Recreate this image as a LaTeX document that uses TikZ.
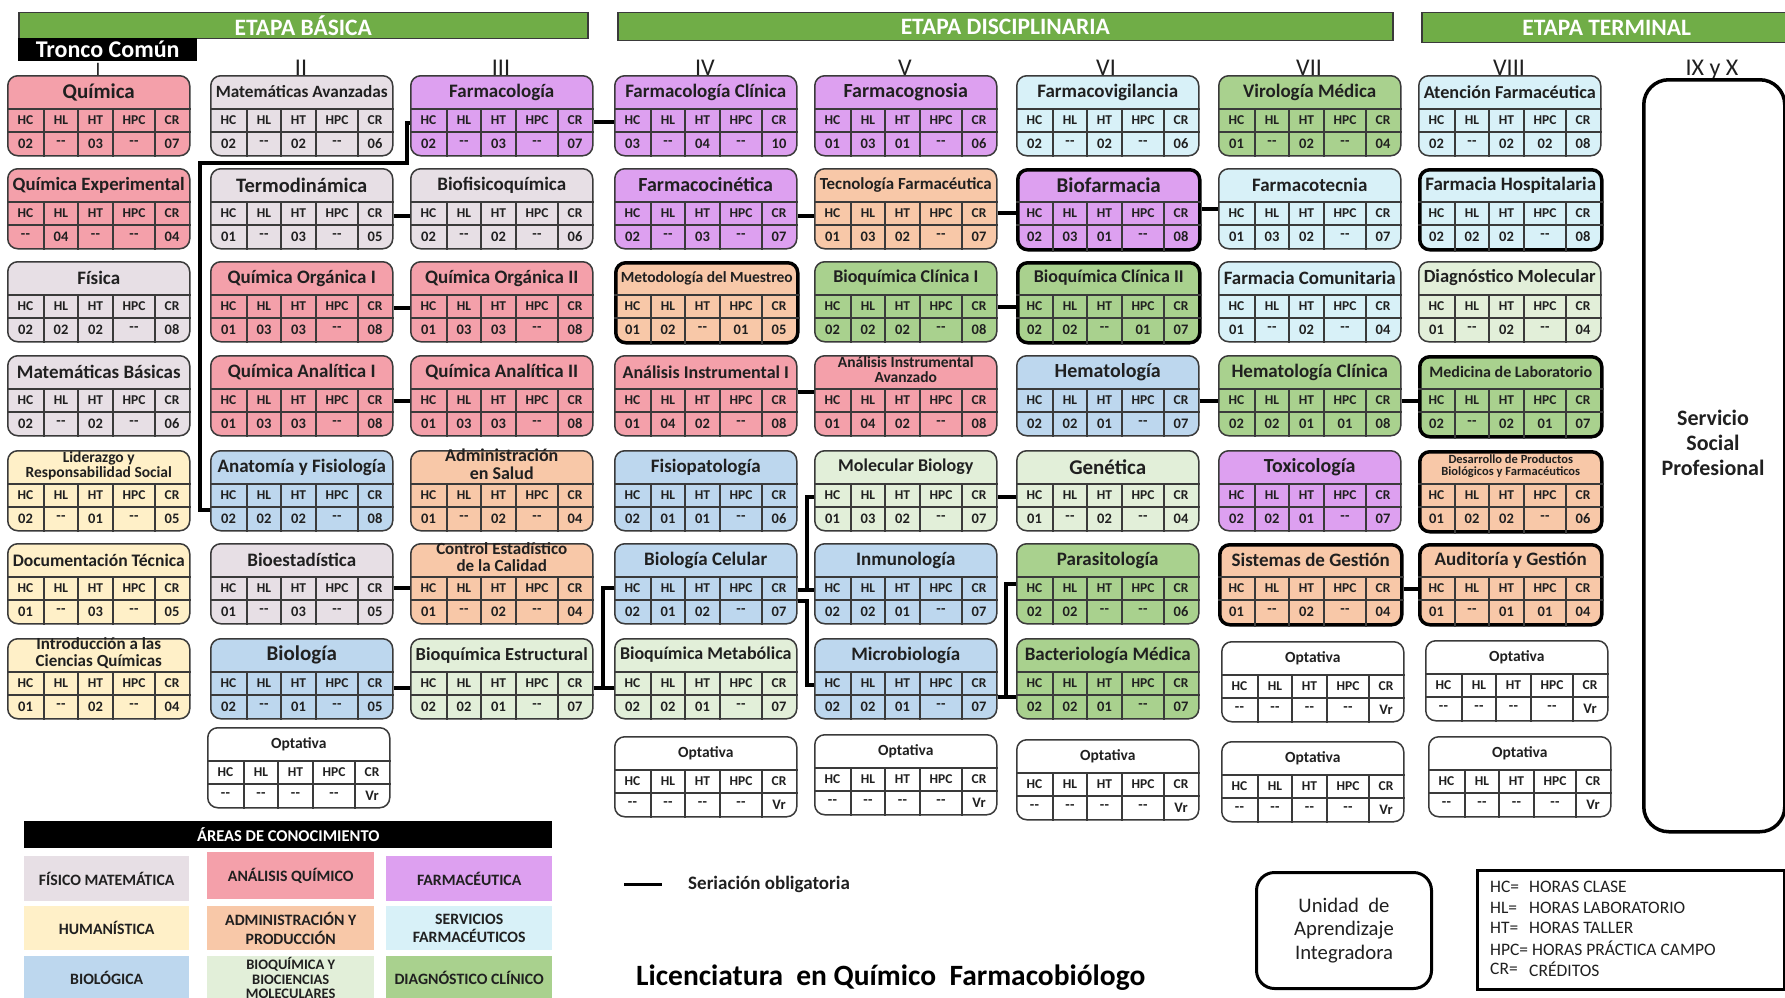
\documentclass[tikz,border=0pt]{standalone}
\usepackage{fontspec}
\setmainfont{Carlito}
\usepackage{graphicx}
\usetikzlibrary{calc}
\definecolor{cFM}{HTML}{E7DFE5}
\definecolor{cAQ}{HTML}{F4A0AA}
\definecolor{cFA}{HTML}{DDA0F0}
\definecolor{cHU}{HTML}{FFF0C8}
\definecolor{cAD}{HTML}{F8C8A8}
\definecolor{cSF}{HTML}{D8F1F8}
\definecolor{cBI}{HTML}{BDD7EE}
\definecolor{cBQ}{HTML}{E2EFD9}
\definecolor{cDC}{HTML}{A9D18E}
\definecolor{cBar}{HTML}{70AD47}
\definecolor{cB}{HTML}{3A3A3A}
\definecolor{cT}{HTML}{202020}
\newcommand\fsz[1]{\fontsize{#1}{#1}\selectfont}
\newsavebox\fitbx
\newcommand\fitw[2]{\sbox\fitbx{#2}\ifdim\wd\fitbx>#1\resizebox{#1}{!}{\usebox\fitbx}\else\usebox\fitbx\fi}
\newcommand\twoln[2]{\begin{tabular}{@{}c@{}}#1\\#2\end{tabular}}
\newcommand\dsh{-\kern0.4pt-}
\tikzset{
  cbox/.style={rectangle, rounded corners=10pt, minimum width=182pt, minimum height=80pt, inner sep=0pt, anchor=north west, draw=cB, line width=1.5pt},
  thk/.style={draw=black, line width=3.5pt},
  grd/.style={draw=cB, line width=1.2pt},
  ttl/.style={font=\bfseries\fsz{19}, inner sep=0pt, text=cT},
  hdr/.style={font=\bfseries\fsz{13.5}, inner sep=0pt, text=cT},
  val/.style={font=\bfseries\fsz{14.5}, inner sep=0pt, text=cT},
  ser/.style={line width=4pt, black},
  stage/.style={anchor=north west, fill=cBar, draw=cB, line width=1.5pt, inner sep=0pt, text=white, font=\bfseries\fsz{23.5}},
  lcell/.style={anchor=north west, inner sep=0pt, align=center, font=\bfseries\fsz{15.8}, text=cT},
  roman/.style={anchor=base, inner sep=0pt, font=\fsz{24}, text=cT},
}
\newcommand\crsvals[6]{%
  \node[val] at ([xshift=18.5pt,yshift=-68.5pt]#1.north west) {#2};
  \node[val] at ([xshift=54pt,yshift=-68.5pt]#1.north west) {#3};
  \node[val] at ([xshift=88.5pt,yshift=-68.5pt]#1.north west) {#4};
  \node[val] at ([xshift=127pt,yshift=-68.5pt]#1.north west) {#5};
  \node[val] at ([xshift=165pt,yshift=-68.5pt]#1.north west) {#6};
}
\newcommand\crs[5][]{%
  \node[cbox,#1] (#2) at (#3) {};
  \foreach \yy in {34,57}{\draw[grd] ([yshift=-\yy pt]#2.north west) -- ([yshift=-\yy pt]#2.north east);}
  \foreach \xx in {37,71,106,148}{\draw[grd] ([xshift=\xx pt,yshift=-34pt]#2.north west) -- ([xshift=\xx pt]#2.south west);}
  \node[ttl] at ([yshift=-17pt]#2.north) {\fitw{172pt}{#4}};
  \foreach \hh/\xx in {HC/18.5,HL/54,HT/88.5,HPC/127,CR/165}{\node[hdr] at ([xshift=\xx pt,yshift=-45.5pt]#2.north west) {\hh};}
  \crsvals{#2}#5%
}
\newcommand\opt[2]{\crs[fill=white]{#1}{#2}{\fsz{15.5}Optativa}{{\dsh}{\dsh}{\dsh}{\dsh}{Vr}}}
\begin{document}
\begin{tikzpicture}[x=1pt,y=-1pt]
\useasboundingbox (0,0) rectangle (1785,998);
\fill[white] (0,0) rectangle (1785,998);
% stage bars
\node[stage, minimum width=569pt, minimum height=26pt] (eb) at (18,12) {ETAPA BÁSICA};
\node[stage, minimum width=775pt, minimum height=28pt] (ed) at (617,12) {ETAPA DISCIPLINARIA};
\node[stage, minimum width=370pt, minimum height=30pt] (et) at (1421,12) {ETAPA TERMINAL};
% roman numerals
\node[roman, font=\fsz{19}] (rI) at (98,76) {I};
\node[roman] (rII) at (301,75) {II};
\node[roman] (rIII) at (501,75) {III};
\node[roman] (rIV) at (705,75) {IV};
\node[roman] (rV) at (905,75) {V};
\node[roman] (rVI) at (1106,75) {VI};
\node[roman] (rVII) at (1309,75) {VII};
\node[roman] (rVIII) at (1509,75) {VIII};
\node[roman] (rIX) at (1712,75) {IX y X};
\node[anchor=north west, fill=black, minimum width=179pt, minimum height=23pt, inner sep=0pt, text=white, font=\bfseries\fsz{24}] (tc) at (18,38) {Tronco Común};
% column I
\crs[fill=cAQ]{qui}{7,75}{\fsz{21}Química}{{02}{\dsh}{03}{\dsh}{07}}
\crs[fill=cAQ]{quiexp}{7,168}{Química Experimental}{{\dsh}{04}{\dsh}{\dsh}{04}}
\crs[fill=cFM]{fis}{7,261}{Física}{{02}{02}{02}{\dsh}{08}}
\crs[fill=cFM]{matbas}{7,355}{Matemáticas Básicas}{{02}{\dsh}{02}{\dsh}{06}}
\crs[fill=cHU]{lid}{7,450}{\fsz{15.5}\twoln{Liderazgo y}{Responsabilidad Social}}{{02}{\dsh}{01}{\dsh}{05}}
\crs[fill=cHU]{doc}{7,543}{Documentación Técnica}{{01}{\dsh}{03}{\dsh}{05}}
\crs[fill=cHU]{intro}{7,638}{\fsz{17}\twoln{Introducción a las}{Ciencias Químicas}}{{01}{\dsh}{02}{\dsh}{04}}
% column II
\crs[fill=cFM]{matav}{210,75}{Matemáticas Avanzadas}{{02}{\dsh}{02}{\dsh}{06}}
\crs[fill=cFM]{termo}{210,168}{\fsz{20.5}Termodinámica}{{01}{\dsh}{03}{\dsh}{05}}
\crs[fill=cAQ]{qoi}{210,261}{Química Orgánica I}{{01}{03}{03}{\dsh}{08}}
\crs[fill=cAQ]{qai}{210,355}{Química Analítica I}{{01}{03}{03}{\dsh}{08}}
\crs[fill=cBI]{anat}{210,450}{Anatomía y Fisiología}{{02}{02}{02}{\dsh}{08}}
\crs[fill=cFM]{bioest}{210,543}{Bioestadística}{{01}{\dsh}{03}{\dsh}{05}}
\crs[fill=cBI]{biol}{210,638}{\fsz{21}Biología}{{02}{\dsh}{01}{\dsh}{05}}
\opt{op2}{207,727}
% column III
\crs[fill=cFA]{farmacol}{410,75}{Farmacología}{{02}{\dsh}{03}{\dsh}{07}}
\crs[fill=cFM]{biofis}{410,168}{Biofisicoquímica}{{02}{\dsh}{02}{\dsh}{06}}
\crs[fill=cAQ]{qoii}{410,261}{Química Orgánica II}{{01}{03}{03}{\dsh}{08}}
\crs[fill=cAQ]{qaii}{410,355}{Química Analítica II}{{01}{03}{03}{\dsh}{08}}
\crs[fill=cAD]{admin}{410,450}{\fsz{18}\twoln{Administración}{en Salud}}{{01}{\dsh}{02}{\dsh}{04}}
\crs[fill=cAD]{control}{410,543}{\fsz{17}\twoln{Control Estadístico}{de la Calidad}}{{01}{\dsh}{02}{\dsh}{04}}
\crs[fill=cBQ]{bqest}{410,638}{Bioquímica Estructural}{{02}{02}{01}{\dsh}{07}}
% column IV
\crs[fill=cFA]{farmclin}{614,75}{Farmacología Clínica}{{03}{\dsh}{04}{\dsh}{10}}
\crs[fill=cFA]{farmcin}{614,168}{\fsz{20}Farmacocinética}{{02}{\dsh}{03}{\dsh}{07}}
\crs[fill=cAD,thk]{metod}{614,261}{\fsz{16}Metodología del Muestreo}{{01}{02}{\dsh}{01}{05}}
\crs[fill=cAQ]{aii}{614,355}{\fsz{18}Análisis Instrumental I}{{01}{04}{02}{\dsh}{08}}
\crs[fill=cBI]{fisiop}{614,450}{Fisiopatología}{{02}{01}{01}{\dsh}{06}}
\crs[fill=cBI]{biocel}{614,543}{Biología Celular}{{02}{01}{02}{\dsh}{07}}
\crs[fill=cBQ]{bqmet}{614,638}{\fsz{18}Bioquímica Metabólica}{{02}{02}{01}{\dsh}{07}}
\opt{op4}{614,736}
% column V
\crs[fill=cFA]{fcog}{814,75}{\fsz{20}Farmacognosia}{{01}{03}{01}{\dsh}{06}}
\crs[fill=cAD]{tecf}{814,168}{Tecnología Farmacéutica}{{01}{03}{02}{\dsh}{07}}
\crs[fill=cDC]{bqci}{814,261}{\fsz{18}Bioquímica Clínica I}{{02}{02}{02}{\dsh}{08}}
\crs[fill=cAQ]{aiav}{814,355}{\fsz{15.5}\twoln{Análisis Instrumental}{Avanzado}}{{01}{04}{02}{\dsh}{08}}
\crs[fill=cBQ]{molbio}{814,450}{\fsz{18}Molecular Biology}{{01}{03}{02}{\dsh}{07}}
\crs[fill=cBI]{inmuno}{814,543}{Inmunología}{{02}{02}{01}{\dsh}{07}}
\crs[fill=cBI]{micro}{814,638}{Microbiología}{{02}{02}{01}{\dsh}{07}}
\opt{op5}{814,734}
% column VI
\crs[fill=cSF]{fvig}{1016,75}{Farmacovigilancia}{{02}{\dsh}{02}{\dsh}{06}}
\crs[fill=cFA,thk]{biofar}{1016,168}{\fsz{21}Biofarmacia}{{02}{03}{01}{\dsh}{08}}
\crs[fill=cDC,thk]{bqcii}{1016,261}{\fsz{18}Bioquímica Clínica II}{{02}{02}{\dsh}{01}{07}}
\crs[fill=cBI]{hema}{1016,355}{\fsz{20}Hematología}{{02}{02}{01}{\dsh}{07}}
\crs[fill=cBQ]{gene}{1016,450}{\fsz{21}Genética}{{01}{\dsh}{02}{\dsh}{04}}
\crs[fill=cDC]{parasit}{1016,543}{Parasitología}{{02}{02}{\dsh}{\dsh}{06}}
\crs[fill=cDC]{bact}{1016,638}{Bacteriología Médica}{{02}{02}{01}{\dsh}{07}}
\opt{op6}{1016,739}
% column VII
\crs[fill=cDC]{viro}{1218,75}{Virología Médica}{{01}{\dsh}{02}{\dsh}{04}}
\crs[fill=cSF]{ftec}{1218,168}{Farmacotecnia}{{01}{03}{02}{\dsh}{07}}
\crs[fill=cSF]{fcom}{1218,261}{Farmacia Comunitaria}{{01}{\dsh}{02}{\dsh}{04}}
\crs[fill=cDC]{hemac}{1218,355}{Hematología Clínica}{{02}{02}{01}{01}{08}}
\crs[fill=cFA]{toxi}{1218,450}{\fsz{20}Toxicología}{{02}{02}{01}{\dsh}{07}}
\crs[fill=cAD,thk]{sgest}{1218,543}{Sistemas de Gestión}{{01}{\dsh}{02}{\dsh}{04}}
\opt{op7a}{1221,641}
\opt{op7b}{1221,741}
% column VIII
\crs[fill=cSF]{atenc}{1418,75}{Atención Farmacéutica}{{02}{\dsh}{02}{02}{08}}
\crs[fill=cSF,thk]{fhosp}{1418,168}{Farmacia Hospitalaria}{{02}{02}{02}{\dsh}{08}}
\crs[fill=cBQ]{diagm}{1418,261}{Diagnóstico Molecular}{{01}{\dsh}{02}{\dsh}{04}}
\crs[fill=cDC,thk]{medlab}{1418,355}{\fsz{16}Medicina de Laboratorio}{{02}{\dsh}{02}{01}{07}}
\crs[fill=cAD,thk]{desarr}{1418,450}{\fsz{12.5}\twoln{Desarrollo de Productos}{Biológicos y Farmacéuticos}}{{01}{02}{02}{\dsh}{06}}
\crs[fill=cAD,thk]{audit}{1418,543}{Auditoría y Gestión}{{01}{\dsh}{01}{01}{04}}
\opt{op8a}{1425,640}
\opt{op8b}{1428,736}
% IX y X
\node[draw=black, line width=3.5pt, rounded corners=25pt, minimum width=141pt, minimum height=752pt, anchor=north west, inner sep=0pt] (ssp) at (1642,78) {};
\node[align=center, font=\bfseries\fontsize{22}{25}\selectfont, text=cT] (ssptxt) at (1713,443) {Servicio\\Social\\Profesional};
% seriacion obligatoria connectors
\draw[ser] ([yshift=-47pt]farmacol.north east) -- ([yshift=-47pt]farmclin.north west);
\draw[ser] ([yshift=-48pt]termo.north east) -- ([yshift=-48pt]biofis.north west);
\draw[ser] ([yshift=-47pt]qoi.north east) -- ([yshift=-47pt]qoii.north west);
\draw[ser] ([yshift=-46pt]qai.north east) -- ([yshift=-46pt]qaii.north west);
\draw[ser] ([yshift=-45pt]bioest.north east) -- ([yshift=-45pt]control.north west);
\draw[ser] ([yshift=-50pt]biol.north east) -- ([yshift=-50pt]bqest.north west);
\draw[ser] ([yshift=-48pt]farmcin.north east) -- ([yshift=-48pt]tecf.north west);
\draw[ser] ([yshift=-45pt]tecf.north east) -- ([yshift=-45pt]biofar.north west);
\draw[ser] ([yshift=-41pt]biofar.north east) -- ([yshift=-41pt]ftec.north west);
\draw[ser] ([yshift=-46pt]bqci.north east) -- ([yshift=-46pt]bqcii.north west);
\draw[ser] ([yshift=-37pt]aii.north east) -- ([yshift=-37pt]aiav.north west);
\draw[ser] ([yshift=-46pt]hema.north east) -- ([yshift=-46pt]hemac.north west);
\draw[ser] ([yshift=-46pt]hemac.north east) -- ([yshift=-46pt]medlab.north west);
\draw[ser] ([yshift=-47pt]molbio.north east) -- ([yshift=-47pt]gene.north west);
\draw[ser] ([yshift=-46pt]sgest.north east) -- ([yshift=-46pt]audit.north west);
\coordinate (j1) at (407,163);
\draw[ser] ([yshift=-60pt]anat.north west) -- ++(-10,0) |- (j1) |- ([yshift=-48pt]farmacol.north west);
\draw[ser] ([yshift=-50pt]bqest.north east) -- ([yshift=-50pt]bqmet.north west);
\draw[ser] ([yshift=-50pt]bqest.north east) -- ++(9,0) |- ([yshift=-45pt]biocel.north west);
\draw[ser] ([yshift=-47pt]biocel.north east) -- ([yshift=-47pt]inmuno.north west);
\draw[ser] ([yshift=-47pt]biocel.north east) -- ++(9,0) |- ([yshift=-47pt]molbio.north west);
\draw[ser] ([yshift=-58pt]biocel.north east) -- ++(9,0) |- ([yshift=-47pt]micro.north west);
\draw[ser] ([yshift=-59pt]micro.north east) -- ([yshift=-59pt]bact.north west);
\draw[ser] ([yshift=-59pt]micro.north east) -- ++(8,0) |- ([yshift=-41pt]parasit.north west);
% legend areas
\node[anchor=north west, fill=black, minimum width=528pt, minimum height=27pt, inner sep=0pt, text=white, font=\bfseries\fsz{16.5}] (areas) at (24,821) {ÁREAS DE CONOCIMIENTO};
\node[lcell, fill=cFM, minimum width=165pt, minimum height=45pt] (l11) at (24,856) {FÍSICO MATEMÁTICA};
\node[lcell, fill=cAQ, minimum width=167pt, minimum height=47pt] (l12) at (207,852) {ANÁLISIS QUÍMICO};
\node[lcell, fill=cFA, minimum width=166pt, minimum height=45pt] (l13) at (386,856) {FARMACÉUTICA};
\node[lcell, fill=cHU, minimum width=165pt, minimum height=44pt] (l21) at (24,906) {HUMANÍSTICA};
\node[lcell, fill=cAD, minimum width=167pt, minimum height=44pt, font=\bfseries\fontsize{15.8}{18.5}\selectfont] (l22) at (207,906) {ADMINISTRACIÓN Y\\PRODUCCIÓN};
\node[lcell, fill=cSF, minimum width=166pt, minimum height=44pt, font=\bfseries\fontsize{15.8}{18.5}\selectfont] (l23) at (386,906) {SERVICIOS\\FARMACÉUTICOS};
\node[lcell, fill=cBI, minimum width=165pt, minimum height=44pt] (l31) at (24,956) {BIOLÓGICA};
\node[lcell, fill=cBQ, minimum width=167pt, minimum height=44pt, font=\bfseries\fontsize{14.5}{14.5}\selectfont] (l32) at (207,956) {BIOQUÍMICA Y\\BIOCIENCIAS\\MOLECULARES};
\node[lcell, fill=cDC, minimum width=166pt, minimum height=44pt] (l33) at (386,956) {DIAGNÓSTICO CLÍNICO};
% seriacion legend
\coordinate (s1) at (624,884);
\coordinate (s2) at (662,884);
\draw[line width=3pt, black] (s1) -- (s2);
\node[anchor=west, inner sep=0pt, font=\bfseries\fsz{19}, text=cT] (sertxt) at (688,884) {Seriación obligatoria};
% title
\node[anchor=west, inner sep=0pt, font=\bfseries\fsz{27}, text=black] (title) at (636,978) {\resizebox{509pt}{!}{Licenciatura\ \ en Químico\ \ Farmacobiólogo}};
% UAI
\node[draw=black, line width=3pt, rounded corners=18pt, minimum width=175pt, minimum height=116pt, anchor=north west, inner sep=0pt] (uai) at (1255,871) {};
\node[align=center, font=\fontsize{20.7}{23.5}\selectfont, text=cT] (uaitxt) at (uai.center) {Unidad\ \ de\\Aprendizaje\\Integradora};
% HC legend
\node[draw=black, line width=3pt, minimum width=307pt, minimum height=119pt, anchor=north west, inner sep=0pt] (hcl) at (1476,869) {};
\foreach \k/\v/\yy in {HC=/HORAS CLASE/887, HL=/HORAS LABORATORIO/908, HT=/HORAS TALLER/928, CR=/CRÉDITOS/969}{
  \node[anchor=west, inner sep=0pt, font=\fsz{17.5}, text=cT] at (1490,\yy) {\k};
  \node[anchor=west, inner sep=0pt, font=\fsz{17.5}, text=cT] at (1529,\yy) {\v};
}
\node[anchor=west, inner sep=0pt, font=\fsz{17.5}, text=cT] (hpcl) at (1490,948) {HPC= HORAS PRÁCTICA CAMPO};
\end{tikzpicture}
\end{document}
